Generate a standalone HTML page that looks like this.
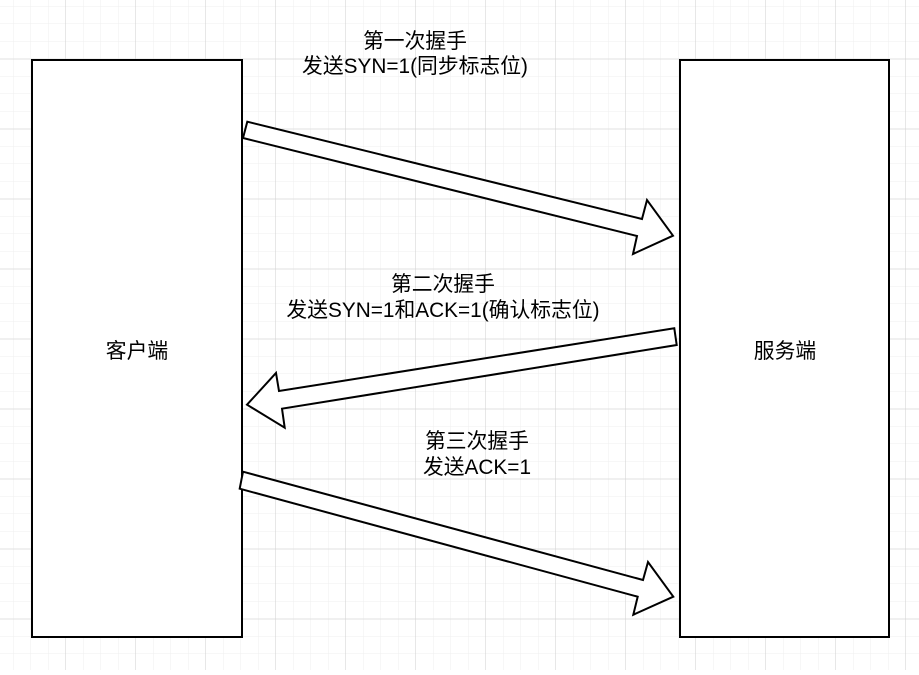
<!DOCTYPE html>
<html><head><meta charset="utf-8"><style>
html,body{margin:0;padding:0;background:#fff}
svg text{font-family:"Liberation Sans","Noto Sans CJK SC",sans-serif;font-size:20.8px;fill:#000}
</style></head><body>
<svg width="919" height="670" viewBox="0 0 919 670" xmlns="http://www.w3.org/2000/svg">
<defs>
<pattern id="minor" x="-4" y="-11" width="17.5" height="17.5" patternUnits="userSpaceOnUse">
<path d="M17.5 0V17.5M0 17.5H17.5" stroke="#efefef" stroke-width="1" fill="none"/>
</pattern>
<pattern id="major" x="-4" y="-10.7" width="70" height="70" patternUnits="userSpaceOnUse">
<path d="M70 0V70M0 70H70" stroke="#cfcfcf" stroke-width="1" fill="none"/>
</pattern>
</defs>
<rect width="919" height="670" fill="url(#minor)"/>
<rect width="919" height="670" fill="url(#major)"/>
<rect x="32" y="60" width="210" height="577" fill="#fff" stroke="#000" stroke-width="2"/>
<rect x="680" y="60" width="209" height="577" fill="#fff" stroke="#000" stroke-width="2"/>
<g fill="#fff" stroke="#000" stroke-width="2" stroke-linejoin="miter">
<polygon points="247.3,121.7 642,219 647,200 673,235.7 633,254 637,236 243,138"/>
<polygon points="674.3,328.3 279,391 276,373 247,404.7 284.7,427.7 282,408.7 676.7,345"/>
<polygon points="243,471.7 643,580 648,562 673.3,596.7 633.3,614.7 637.7,596.7 239.7,488.7"/>
</g>
<g text-anchor="middle">
<text x="415" y="48">第一次握手</text>
<text x="415" y="73">发送SYN=1(同步标志位)</text>
<text x="443" y="291">第二次握手</text>
<text x="443" y="317">发送SYN=1和ACK=1(确认标志位)</text>
<text x="477" y="448">第三次握手</text>
<text x="477" y="474">发送ACK=1</text>
<text x="137" y="358">客户端</text>
<text x="785" y="358">服务端</text>
</g>
</svg>
</body></html>
